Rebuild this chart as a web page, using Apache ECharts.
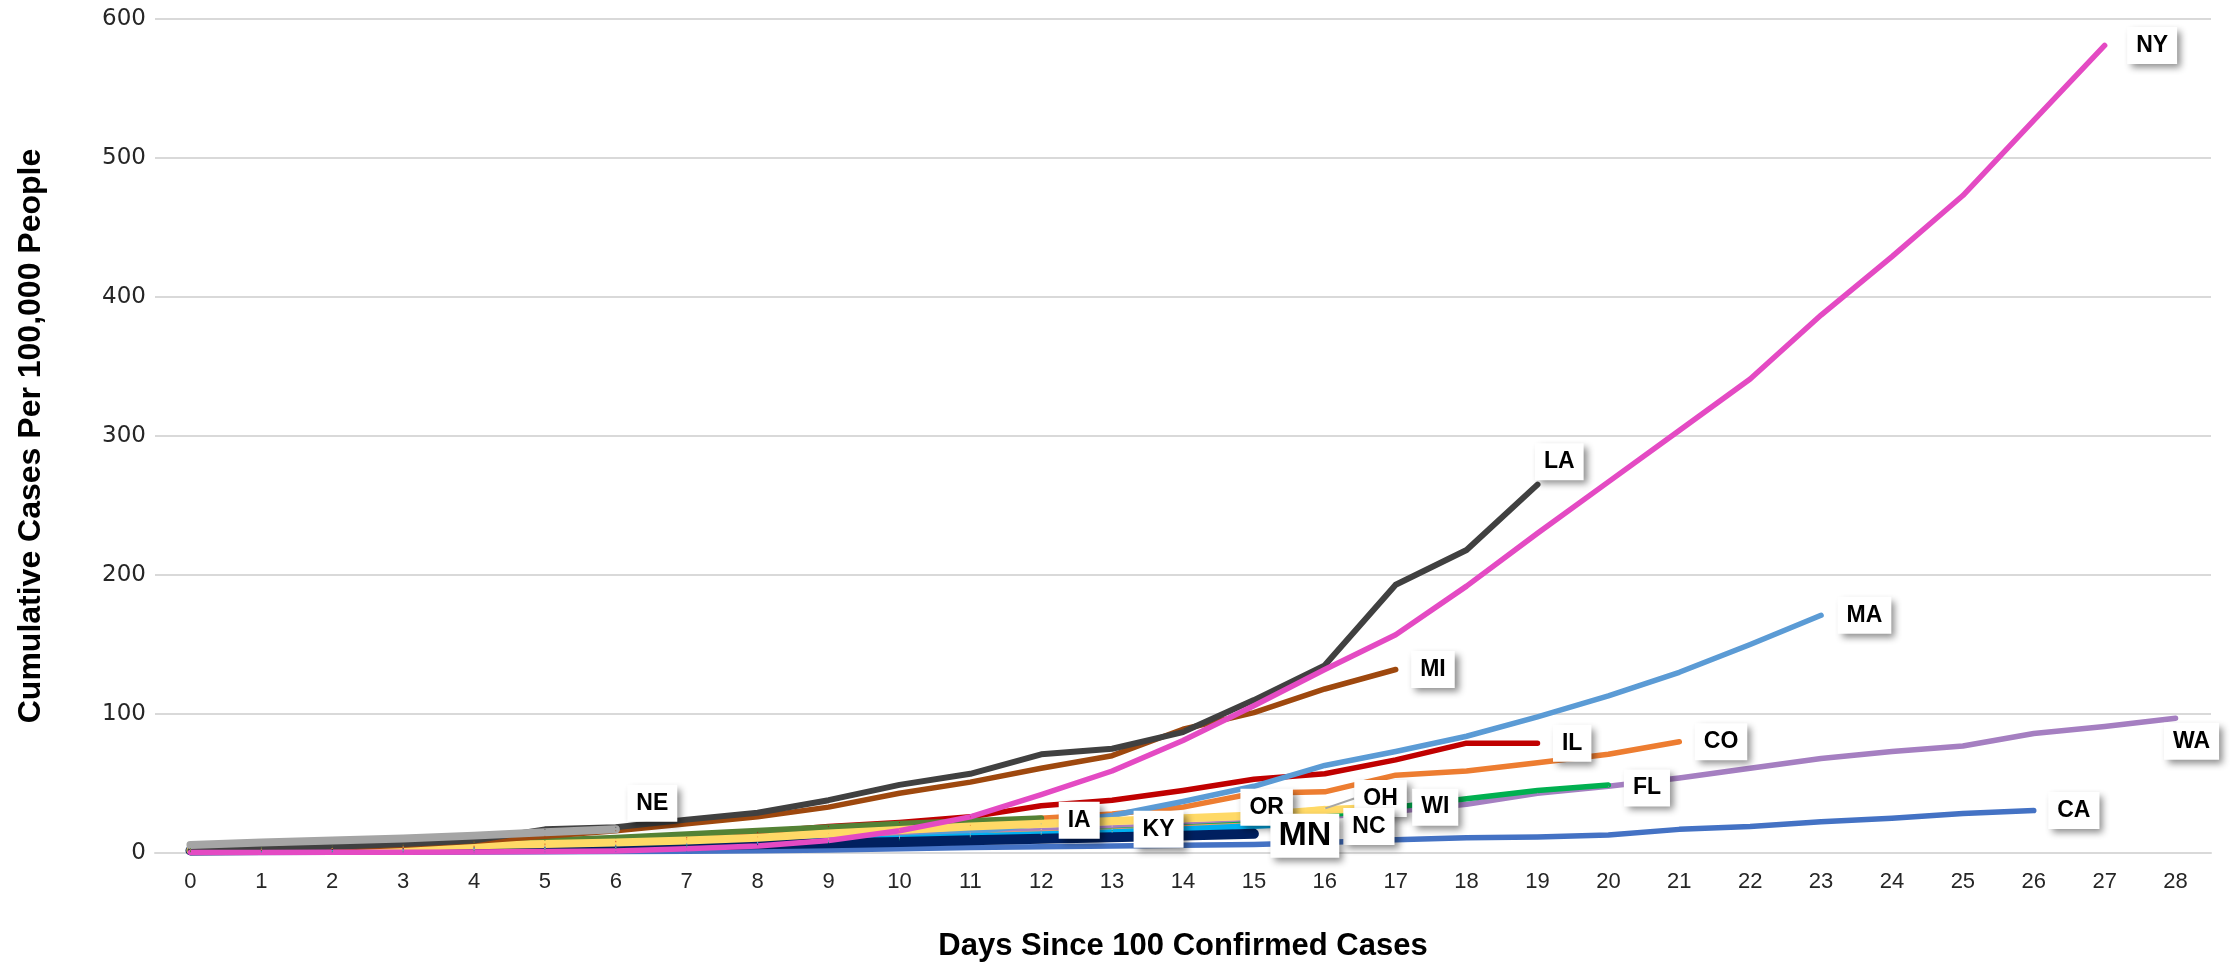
<!DOCTYPE html>
<html>
<head>
<meta charset="utf-8">
<script src="https://cdn.jsdelivr.net/npm/echarts@6/dist/echarts.min.js"></script>
<style>
html,body{margin:0;padding:0;background:#fff;}
#chart{width:2234px;height:969px;}
</style>
</head>
<body>
<div id="chart"></div>
<script>
// Categories: days since 100 confirmed cases
const days = ['0','1','2','3','4','5','6','7','8','9','10','11','12','13','14','15','16','17','18','19','20','21','22','23','24','25','26','27','28'];
const yTicks = [0, 100, 200, 300, 400, 500, 600];

// Cumulative cases per 100,000 people, by state (index = day)
const KY = [2.2,2.6,3,3.5,4.2,5,5.9,7,8.3,9.5,11,13,15,17];
const OH = [0.9,1.1,1.4,2,2.6,3.3,4.2,5.6,7.7,10,12,14.5,17,19.5,22,26,32];
const CA = [0.3,0.4,0.5,0.6,0.7,0.9,1.1,1.3,1.6,2.1,3,4,4.5,5,5.5,6.2,7.5,9.5,11,11.5,13,17,19,22.5,25,28.5,30.5];
const WA = [1.3,1.8,2.2,2.7,3.3,4.5,5.5,6.5,8,9.5,12,14.5,16,18,20,22,26,30,35,43,48,54,61,68,73,77,86,91,97];
const FL = [0.5,0.7,1,1.5,2,2.5,3.2,4.5,6,7.5,9.5,11.5,13.5,16,18.5,21,27,33,39,45,49];
const OR = [2.4,2.8,3.2,3.7,4.3,5,5.9,7,8.3,9.5,11,12.5,14,15.5,18,20];
const CO = [1.7,2.2,2.8,3.5,4.5,6,7.5,9.5,11.5,14,16,20,25,28,33,43,44,56,59,65,71,80];
const IL = [1,1.5,2.5,3.5,5,6.5,8.5,11,15,19,22,26,34,38,45,53,57,67,79,79];
const MA = [1.5,1.8,2,2.3,2.8,3.3,4,5,6.5,8.5,11,15,21,27,37,48,63,73,84,98,113,130,150,171];
const NC = [1,1.3,1.7,2.2,3,4,5,6.3,7.5,9,10.5,12,13.5,15,17,19.5,22];
const MN = [1.8,2.2,2.6,3.1,3.7,4.2,5,5.6,6.3,7.1,8,9.2,10.2,11.3,12.5,13.8];
const IA = [3.2,4,5,6,7.5,9,11,13.5,16,18.5,21,23,25];
const WI = [2,2.8,3.5,4.5,5.5,6.5,7.5,9,11,14,16.5,19,21,23,25,27,31,33];
const MI = [1,2,3.5,5.5,8.5,12,16,21,26,33,43,51,61,70,89,101,118,132];
const LA = [2.2,3,4.5,6.5,9,17,18.5,24,29,38,49,57,71,75,87,110,135,193,218,265];
const NY = [0.3,0.4,0.5,0.6,0.8,1.0,1.5,3,5,9,16,26,42,59,81,106,132,157,192,230,267,304,341,387,429,473,527,581];
const NE = [5.8,7.5,9,10.5,12.5,15,17];

// Drawing order (bottom to top)
const stateNames = ['KY','OH','CA','WA','FL','OR','CO','IL','MA','NC','MN','IA','WI','MI','LA','NY','NE'];
const stateValues = {KY,OH,CA,WA,FL,OR,CO,IL,MA,NC,MN,IA,WI,MI,LA,NY,NE};

// Styles (not data)
const styles = {
  KY:{color:'#9DC3E6', w:5.5, dx:6,  dy:0},
  OH:{color:'#FFE699', w:5.5, dx:14, dy:-10, leader:true},
  CA:{color:'#4472C4', w:5.5, dx:-1, dy:0},
  WA:{color:'#A57FC1', w:5.5, dx:-27,dy:23},
  FL:{color:'#00B050', w:5.5, dx:0,  dy:3},
  OR:{color:'#F19C5F', w:6,   dx:-29,dy:-18},
  CO:{color:'#ED7D31', w:5.5, dx:0,  dy:0},
  IL:{color:'#C00000', w:5.5, dx:0,  dy:0},
  MA:{color:'#5B9BD5', w:5.5, dx:1,  dy:0},
  NC:{color:'#00B0F0', w:6,   dx:3,  dy:4},
  MN:{color:'#002060', w:10,  dx:1,  dy:2, big:true},
  IA:{color:'#548235', w:6,   dx:2,  dy:2},
  WI:{color:'#FFD966', w:8,   dx:1,  dy:0},
  MI:{color:'#9E480E', w:5.5, dx:0,  dy:0},
  LA:{color:'#404040', w:6,   dx:-18,dy:-23},
  NY:{color:'#E44AC3', w:5.5, dx:7,  dy:0},
  NE:{color:'#A5A5A5', w:8,   dx:-4, dy:-26}
};

const font = '"Liberation Sans",Arial,sans-serif';

const series = stateNames.map(name => {
  const vals = stateValues[name];
  const st = styles[name];
  const data = vals.map((v, i) => i === vals.length - 1 ? {value: v, label: {show: true}} : v);
  return {
    name: name,
    type: 'line',
    data: data,
    symbol: 'circle',
    symbolSize: 1,
    showSymbol: true,
    showAllSymbol: true,
    itemStyle: {color: st.color},
    lineStyle: {color: st.color, width: st.w, cap: 'round', join: 'round'},
    label: {
      show: false,
      position: 'right',
      distance: 15,
      formatter: name,
      color: '#000',
      fontFamily: font,
      fontWeight: 'bold',
      fontSize: st.big ? 34 : 23,
      backgroundColor: '#ffffff',
      padding: st.big ? [5, 8] : [7, 9],
      shadowColor: 'rgba(0,0,0,0.45)',
      shadowBlur: 7,
      shadowOffsetX: 4,
      shadowOffsetY: 4
    },
    labelLayout: {dx: st.dx, dy: st.dy},
    labelLine: {show: !!st.leader, lineStyle: {color: '#A6A6A6', width: 2}},
    emphasis: {disabled: true},
    z: 2
  };
});

const chart = echarts.init(document.getElementById('chart'), null, {renderer: 'canvas'});
chart.setOption({
  animation: false,
  backgroundColor: '#ffffff',
  grid: {left: 155, right: 23, top: 19, bottom: 116},
  xAxis: {
    type: 'category',
    data: days,
    boundaryGap: true,
    name: 'Days Since 100 Confirmed Cases',
    nameLocation: 'middle',
    nameGap: 78,
    nameTextStyle: {fontFamily: font, fontWeight: 'bold', fontSize: 31, color: '#000'},
    axisLine: {show: true, lineStyle: {color: '#D9D9D9', width: 2}},
    axisTick: {show: false},
    axisLabel: {fontFamily: font, fontSize: 22, color: '#262626', margin: 18, interval: 0}
  },
  yAxis: {
    type: 'value',
    min: yTicks[0],
    max: yTicks[yTicks.length - 1],
    interval: 100,
    name: 'Cumulative Cases Per 100,000 People',
    nameLocation: 'middle',
    nameRotate: 90,
    nameGap: 108,
    nameTextStyle: {fontFamily: font, fontWeight: 'bold', fontSize: 32, color: '#000'},
    axisLine: {show: false},
    axisTick: {show: false},
    splitLine: {show: true, lineStyle: {color: '#D9D9D9', width: 2}},
    axisLabel: {fontFamily: '"DejaVu Sans",Verdana,sans-serif', fontSize: 23, color: '#262626', margin: 9}
  },
  series: series
});
</script>
</body>
</html>
